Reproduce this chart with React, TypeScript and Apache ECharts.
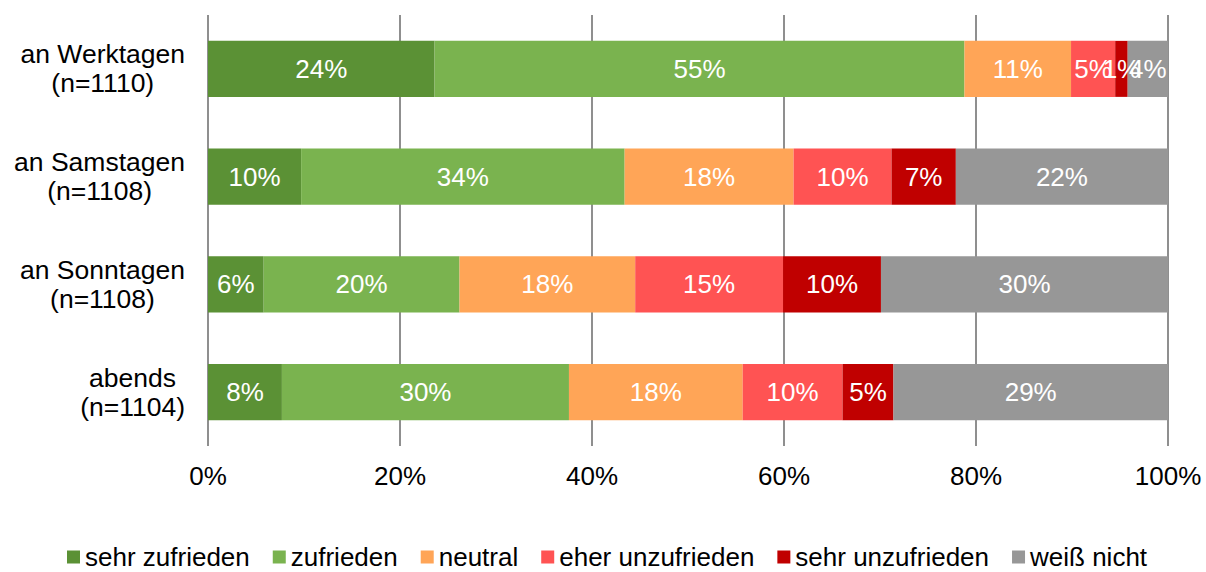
import React, { useEffect, useRef } from "react";
import * as echarts from "echarts";

const groups = ["an Werktagen", "an Samstagen", "an Sonntagen", "abends"];
const sampleSizes = [1110, 1108, 1108, 1104];
const seriesNames = ["sehr zufrieden", "zufrieden", "neutral", "eher unzufrieden", "sehr unzufrieden", "weiß nicht"];
const sehrZufrieden = [23.6, 9.7, 5.8, 7.7];
const zufrieden = [55.2, 33.7, 20.4, 29.9];
const neutral = [11.1, 17.6, 18.3, 18.1];
const eherUnzufrieden = [4.6, 10.2, 15.4, 10.4];
const sehrUnzufrieden = [1.3, 6.7, 10.2, 5.3];
const weissNicht = [4.2, 22.1, 29.9, 28.6];
const xTicks = [0, 20, 40, 60, 80, 100];

const colors = ["#5B9135", "#7AB34F", "#FFA557", "#FF5353", "#C00000", "#979797"];
const FONT = "'Liberation Sans', Arial, sans-serif";

export default function App() {
  const ref = useRef<HTMLDivElement>(null);
  useEffect(() => {
    document.body.style.margin = "0";
    const chart = echarts.init(ref.current!, null, { renderer: "svg" });
    const values = [sehrZufrieden, zufrieden, neutral, eherUnzufrieden, sehrUnzufrieden, weissNicht];
    chart.setOption({
      animation: false,
      textStyle: { fontFamily: FONT },
      grid: { left: 208, right: 38, top: 15, bottom: 126 },
      legend: {
        top: 543,
        left: 67,
        padding: 0,
        icon: "rect",
        itemWidth: 13,
        itemHeight: 13,
        itemGap: 23,
        textStyle: { fontSize: 26, lineHeight: 28, color: "#000", fontFamily: FONT },
        data: seriesNames,
      },
      xAxis: {
        type: "value",
        min: xTicks[0],
        max: xTicks[xTicks.length - 1],
        interval: 20,
        axisLine: { show: false },
        axisTick: { show: false },
        splitLine: { show: true, lineStyle: { color: "#8f8f8f", width: 2 } },
        axisLabel: { formatter: "{value}%", fontSize: 26, color: "#000", margin: 17, fontFamily: FONT },
      },
      yAxis: {
        type: "category",
        inverse: true,
        data: groups,
        axisLine: { show: false },
        axisTick: { show: false },
        axisLabel: {
          align: "right",
          margin: 23,
          formatter: (v: string, i: number) => `{c|${v}}\n{c|(n=${sampleSizes[i]})}`,
          rich: {
            c: { align: "center", fontSize: 26.5, lineHeight: 29, color: "#000", fontFamily: FONT },
          },
        },
      },
      series: seriesNames.map((name, k) => ({
        name,
        type: "bar",
        stack: "total",
        barWidth: "52%",
        itemStyle: { color: colors[k] },
        label: {
          show: true,
          position: "inside",
          color: "#fff",
          fontSize: 26,
          fontFamily: FONT,
          formatter: (p: any) => `${Math.round(p.value)}%`,
        },
        data: values[k],
      })),
    });
    return () => chart.dispose();
  }, []);
  return <div ref={ref} style={{ width: 1206, height: 572 }} />;
}
